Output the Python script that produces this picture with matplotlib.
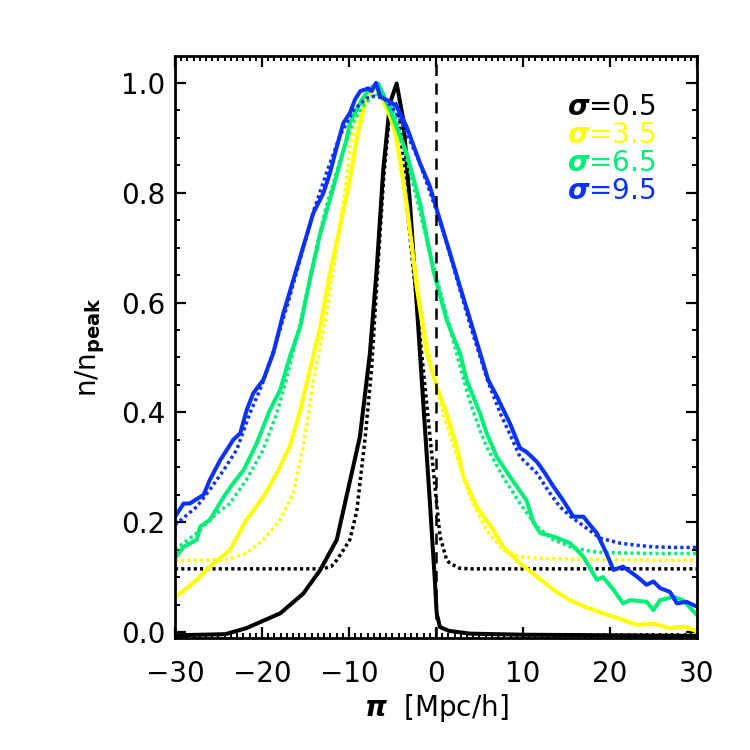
import matplotlib
matplotlib.use('Agg')
import matplotlib.pyplot as plt
from matplotlib.ticker import MultipleLocator, AutoMinorLocator

# measured profiles (solid) and model curves (dotted), one pair per sigma
x_k = [-30, -24.2, -21.8, -17.9, -15.25, -13.3, -11.4, -10.3, -8.74, -7.59, -6.82, -6.06,
       -5.29, -4.52, -3.76, -2.99, -2.22, -1.46, -0.69, -0.11, 0.08, 0.46, 1.5, 3.9, 10, 20, 30]
y_k = [-0.006, -0.004, 0.007, 0.034, 0.07, 0.113, 0.168, 0.246, 0.356, 0.508, 0.659, 0.842,
       0.963, 0.999, 0.933, 0.781, 0.599, 0.417, 0.234, 0.089, 0.034, 0.009, 0.002, -0.003,
       -0.005, -0.006, -0.007]
xm_k = [-30, -13, -12, -11.4, -10.65, -9.9, -9.1, -8.1, -7.4, -6.7, -6.0, -5.4, -5.0, -4.7,
        -4.3, -3.37, -1.84, -0.69, 0.08, 0.46, 1.23, 1.61, 2.76, 4, 30]
ym_k = [0.115, 0.115, 0.12, 0.131, 0.149, 0.168, 0.22, 0.36, 0.48, 0.66, 0.83, 0.93, 0.962,
        0.965, 0.95, 0.781, 0.538, 0.356, 0.234, 0.174, 0.131, 0.125, 0.116, 0.115, 0.115]

x_y = [-30, -29, -27.5, -26, -23.7, -21.8, -19.85, -18.3, -16.8, -15.6, -14.5, -13.3, -12.2,
       -11.03, -10.3, -9.9, -9.1, -7.97, -7.0, -6.0, -5.3, -4.52, -3.37, -2.22, -1.07, 0.08,
       1.23, 2.38, 3.14, 4.68, 6.6, 7.74, 8.5, 9.66, 11.6, 13.5, 15.4, 17.3, 19.2, 21, 23.1,
       25, 26.9, 28.5, 30]
y_y = [0.064, 0.075, 0.095, 0.119, 0.149, 0.204, 0.246, 0.289, 0.338, 0.404, 0.477, 0.556,
       0.653, 0.738, 0.793, 0.823, 0.9, 0.975, 0.993, 0.965, 0.94, 0.902, 0.781, 0.629, 0.508,
       0.447, 0.398, 0.338, 0.283, 0.228, 0.186, 0.155, 0.143, 0.125, 0.101, 0.077, 0.058,
       0.045, 0.034, 0.025, 0.013, 0.015, 0.007, 0.01, 0.001]
xm_y = [-30, -24.1, -21.8, -19.85, -17.9, -16.4, -15.25, -14.3, -13.7, -12.56, -11.4, -10.3,
        -9.9, -9, -8, -7, -6, -5, -4, -3, -2, -1, 0, 1, 2, 3, 3.9, 5.8, 7.7, 9.66, 12, 15,
        20, 25, 30]
ym_y = [0.13, 0.132, 0.143, 0.168, 0.204, 0.253, 0.338, 0.435, 0.489, 0.58, 0.702, 0.823,
        0.884, 0.94, 0.97, 0.98, 0.97, 0.93, 0.84, 0.73, 0.62, 0.52, 0.45, 0.39, 0.34, 0.29,
        0.246, 0.186, 0.149, 0.137, 0.134, 0.133, 0.132, 0.131, 0.131]

x_g = [-30, -29, -27.5, -27.1, -26, -24.4, -23.3, -22.1, -20.6, -19.1, -17.9, -16.8, -15.6,
       -14.5, -13.3, -12.2, -11.03, -10.3, -9.9, -9.5, -8.5, -7.6, -6.63, -5.29, -3.37, -1.84,
       -0.31, 1.23, 2.76, 3.53, 5.06, 5.83, 7.0, 8.5, 10.4, 11.2, 12, 13.5, 15.4, 16.95, 18.5,
       19.2, 20.4, 21.5, 22.3, 24.2, 25, 25.75, 27.3, 28.4, 30]
y_g = [0.135, 0.155, 0.168, 0.192, 0.204, 0.246, 0.271, 0.295, 0.344, 0.404, 0.441, 0.501,
       0.556, 0.641, 0.726, 0.787, 0.854, 0.896, 0.927, 0.94, 0.97, 0.99, 0.999, 0.951, 0.872,
       0.781, 0.659, 0.568, 0.508, 0.459, 0.398, 0.362, 0.319, 0.283, 0.24, 0.2, 0.18, 0.174,
       0.162, 0.137, 0.095, 0.1, 0.077, 0.052, 0.058, 0.055, 0.04, 0.058, 0.064, 0.058, 0.031]
xm_g = [-30, -27.5, -25.2, -23.7, -21.8, -19.85, -18.3, -17.2, -15.5, -14, -12.7, -11, -9.5,
        -8.3, -7, -6, -5, -4, -3, -2, -1, 0, 1, 2, 3, 4, 5, 5.8, 7.7, 9.66, 11.6, 13.5, 15.5,
        17.3, 19, 21.1, 25, 30]
ym_g = [0.15, 0.18, 0.216, 0.234, 0.277, 0.332, 0.398, 0.46, 0.57, 0.68, 0.77, 0.86, 0.93,
        0.96, 0.98, 0.975, 0.955, 0.9, 0.84, 0.775, 0.71, 0.65, 0.59, 0.53, 0.47, 0.415, 0.37,
        0.338, 0.283, 0.234, 0.192, 0.168, 0.155, 0.148, 0.145, 0.144, 0.143, 0.143]

x_b = [-30, -29, -28.3, -26.7, -26, -24.8, -23.3, -22.5, -21.76, -21.0, -19.85, -18.7, -17.55,
       -16.4, -15.25, -14.1, -12.95, -12.2, -11.4, -10.65, -9.9, -9.3, -8.7, -7.8, -7.4, -6.9,
       -6.4, -5.3, -4.5, -3.37, -1.84, -0.69, 0.46, 1.61, 2.76, 3.9, 4.85, 6.0, 7.0, 8.5, 9.66,
       10.4, 11.6, 12.5, 13.5, 14.6, 15.8, 16.95, 17.7, 18.5, 19.6, 20.4, 21.5, 22.3, 23.1,
       24.2, 25, 25.75, 26.9, 27.7, 28.8, 30]
y_b = [0.21, 0.234, 0.234, 0.25, 0.277, 0.313, 0.35, 0.362, 0.404, 0.435, 0.459, 0.508, 0.58,
       0.641, 0.702, 0.763, 0.799, 0.835, 0.884, 0.927, 0.945, 0.97, 0.985, 0.99, 0.985, 1.0,
       0.975, 0.966, 0.957, 0.92, 0.854, 0.811, 0.75, 0.69, 0.629, 0.57, 0.52, 0.459, 0.429,
       0.38, 0.335, 0.328, 0.31, 0.29, 0.265, 0.24, 0.21, 0.21, 0.195, 0.18, 0.143, 0.113,
       0.119, 0.11, 0.101, 0.086, 0.092, 0.08, 0.073, 0.052, 0.055, 0.046]
xm_b = [-30, -27.5, -26, -24.4, -22.9, -21.4, -20, -18.5, -17, -15.5, -14, -12.5, -11, -9.5,
        -8, -7, -6, -5, -4, -3, -2, -1, 0, 1, 2, 3, 4, 5, 6, 7.4, 8.5, 9.66, 11.6, 13, 14.25,
        15.5, 16.55, 18.85, 21.1, 23, 25, 27.5, 30]
ym_b = [0.195, 0.228, 0.259, 0.295, 0.332, 0.398, 0.45, 0.52, 0.6, 0.685, 0.77, 0.84, 0.905,
        0.95, 0.972, 0.976, 0.972, 0.955, 0.93, 0.895, 0.86, 0.815, 0.77, 0.72, 0.665, 0.61,
        0.555, 0.505, 0.455, 0.398, 0.36, 0.319, 0.289, 0.255, 0.228, 0.21, 0.198, 0.171,
        0.162, 0.158, 0.155, 0.154, 0.154]

sigmas = ['0.5', '3.5', '6.5', '9.5']
colors = ['black', '#ffff00', '#00ee77', '#0a32ff']

data = [(x_k, y_k, xm_k, ym_k), (x_y, y_y, xm_y, ym_y),
        (x_g, y_g, xm_g, ym_g), (x_b, y_b, xm_b, ym_b)]

plt.rcParams['font.family'] = 'DejaVu Sans'
fig = plt.figure(figsize=(7.5, 7.5), dpi=100)
ax = fig.add_axes([0.2333, 0.1493, 0.696, 0.776])

for (xs, ys, xm, ym), c in zip(data, colors):
    ax.plot(xm, ym, color=c, lw=2.5, linestyle=(0, (0.9, 0.9)))
    ax.plot(xs, ys, color=c, lw=2.9)

ax.axvline(0, color='black', lw=1.8, linestyle=(0, (4.5, 3)))

ax.set_xlim(-30, 30)
ax.set_ylim(-0.011, 1.049)
ax.xaxis.set_minor_locator(AutoMinorLocator(14))
ax.yaxis.set_minor_locator(MultipleLocator(0.05))
ax.set_xticks([-30, -20, -10, 0, 10, 20, 30])
ax.set_xticklabels(['\u221230', '\u221220', '\u221210', '0', '10', '20', '30'])
ax.set_yticks([0, 0.2, 0.4, 0.6, 0.8, 1.0])
ax.set_yticklabels(['0.0', '0.2', '0.4', '0.6', '0.8', '1.0'])
ax.tick_params(which='both', direction='in', top=True, right=True, labelsize=20)
ax.tick_params(which='major', length=8, width=1.6)
ax.tick_params(which='minor', length=3.6, width=1.4)
ax.tick_params(axis='x', which='major', pad=16)
ax.tick_params(axis='y', which='major', pad=7)
for s in ax.spines.values():
    s.set_linewidth(2)

ax.set_xlabel(r'$\boldsymbol{\pi}$  [Mpc/h]', fontsize=20)
ax.xaxis.set_label_coords(0.5, -0.093)
ax.set_ylabel(r'n/n$_{\mathbf{peak}}$', fontsize=20)
ax.yaxis.set_label_coords(-0.13, 0.5)

for i, (s, c) in enumerate(zip(sigmas, colors)):
    ax.text(0.751, 0.912 - 0.048 * i, r'$\boldsymbol{\sigma}$=' + s, color=c,
            fontsize=20, transform=ax.transAxes, va='center', ha='left')

fig.savefig('out.png', dpi=100)
